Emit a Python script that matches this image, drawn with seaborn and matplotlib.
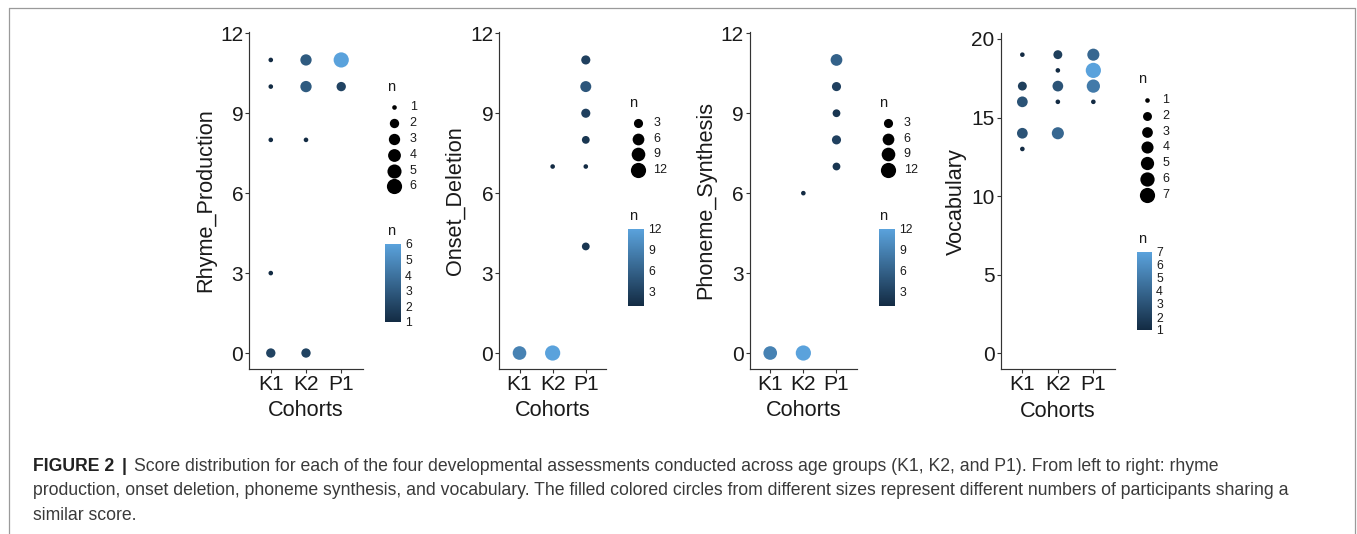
import numpy as np
import pandas as pd
import matplotlib
matplotlib.use("Agg")
import matplotlib.pyplot as plt
import seaborn as sns
from matplotlib.colors import LinearSegmentedColormap, Normalize
from matplotlib.lines import Line2D
import matplotlib.cm as cm

# ---------------- data ----------------
cohorts = ["K1", "K2", "P1"]

rhyme_cohort = ["K1", "K1", "K1", "K1", "K1", "K2", "K2", "K2", "K2", "P1", "P1"]
rhyme_score = [11, 10, 8, 3, 0, 11, 10, 8, 0, 11, 10]
rhyme_n = [1, 1, 1, 1, 2, 3, 3, 1, 2, 6, 2]
rhyme_yticks = [0, 3, 6, 9, 12]
rhyme_breaks = [1, 2, 3, 4, 5, 6]

onset_cohort = ["K1", "K2", "K2", "P1", "P1", "P1", "P1", "P1", "P1"]
onset_score = [0, 0, 7, 11, 10, 9, 8, 7, 4]
onset_n = [9, 12, 1, 3, 5, 3, 2, 1, 2]
onset_yticks = [0, 3, 6, 9, 12]
onset_breaks = [3, 6, 9, 12]

phon_cohort = ["K1", "K2", "K2", "P1", "P1", "P1", "P1", "P1"]
phon_score = [0, 0, 6, 11, 10, 9, 8, 7]
phon_n = [9, 12, 1, 6, 3, 2, 3, 2]
phon_yticks = [0, 3, 6, 9, 12]
phon_breaks = [3, 6, 9, 12]

vocab_cohort = ["K1", "K1", "K1", "K1", "K1", "K2", "K2", "K2", "K2", "K2", "P1", "P1", "P1", "P1"]
vocab_score = [19, 17, 16, 14, 13, 19, 18, 17, 16, 14, 19, 18, 17, 16]
vocab_n = [1, 2, 3, 3, 1, 2, 1, 3, 1, 4, 4, 7, 5, 1]
vocab_yticks = [0, 5, 10, 15, 20]
vocab_breaks = [1, 2, 3, 4, 5, 6, 7]

caption_bold = "FIGURE 2"
caption_line1 = ("Score distribution for each of the four developmental assessments conducted "
                 "across age groups (K1, K2, and P1). From left to right: rhyme")
caption_line2 = ("production, onset deletion, phoneme synthesis, and vocabulary. The filled colored "
                 "circles from different sizes represent different numbers of participants sharing a")
caption_line3 = "similar score."

# ---------------- style ----------------
sns.set_theme(style="ticks")
plt.rcParams["font.family"] = ["Liberation Sans", "DejaVu Sans"]

W, H, DPI = 1357, 534, 100
PT = 72.0 / DPI  # points per pixel
fig = plt.figure(figsize=(W / DPI, H / DPI), dpi=DPI)
fig.patch.set_facecolor("white")


def rect(l, t, r, b):
    return [l / W, 1 - b / H, (r - l) / W, (b - t) / H]


def fx(px):
    return px / W


def fy(py):
    return 1 - py / H


cmap = LinearSegmentedColormap.from_list("gg", ["#132B43", "#5aa2dc"])


def diam_px(v, vmax):
    return 4.6 + 10.6 * np.sqrt((v - 1.0) / (vmax - 1.0))


panels = [
    dict(label="Rhyme_Production", cohort=rhyme_cohort, score=rhyme_score, n=rhyme_n,
         yticks=rhyme_yticks, breaks=rhyme_breaks, box=(249.3, 31.7, 362.7, 369),
         ylim=(-0.6, 12.06), leg=(387, 87.3, 394.3, 107.3), cbar=(385, 244, 401, 322),
         cbtitle=(387, 231)),
    dict(label="Onset_Deletion", cohort=onset_cohort, score=onset_score, n=onset_n,
         yticks=onset_yticks, breaks=onset_breaks, box=(499.3, 31.7, 606, 369),
         ylim=(-0.6, 12.06), leg=(629, 102.7, 637.7, 122.7), cbar=(628, 229, 644, 306),
         cbtitle=(629, 216)),
    dict(label="Phoneme_Synthesis", cohort=phon_cohort, score=phon_score, n=phon_n,
         yticks=phon_yticks, breaks=phon_breaks, box=(750, 31.7, 856.7, 369),
         ylim=(-0.6, 12.06), leg=(879.5, 102.7, 888.2, 122.7), cbar=(879, 229, 895, 306),
         cbtitle=(879.5, 216)),
    dict(label="Vocabulary", cohort=vocab_cohort, score=vocab_score, n=vocab_n,
         yticks=vocab_yticks, breaks=vocab_breaks, box=(1000.7, 33.3, 1115, 369.3),
         ylim=(-1.02, 20.36), leg=(1138, 79, 1146.7, 100), cbar=(1136.7, 252, 1152, 330),
         cbtitle=(1138, 239)),
]

AXCOL = "#333333"
TXTCOL = "#1a1a1a"
LEG_STEP = 15.8

for p in panels:
    ax = fig.add_axes(rect(*p["box"]))
    df = pd.DataFrame({"Cohorts": p["cohort"], "score": p["score"], "n": p["n"]})
    nmax = max(p["n"])
    norm = Normalize(1, nmax)
    sizes = {v: (diam_px(v, nmax) * PT) ** 2 for v in sorted(set(p["n"]))}
    sns.scatterplot(data=df, x="Cohorts", y="score", hue="n", size="n", sizes=sizes,
                    palette=cmap, hue_norm=norm, linewidth=0, legend=False, ax=ax, zorder=3)
    ax.set_xticks(range(len(cohorts)))
    ax.set_xticklabels(cohorts)
    ax.set_xlim(-0.61, 2.61)
    ax.set_ylim(*p["ylim"])
    ax.set_yticks(p["yticks"])
    ax.set_facecolor("white")
    for s in ["top", "right"]:
        ax.spines[s].set_visible(False)
    for s in ["left", "bottom"]:
        ax.spines[s].set_color(AXCOL)
        ax.spines[s].set_linewidth(0.85)
    ax.tick_params(axis="both", length=2.9, width=0.8, color=AXCOL, labelsize=15,
                   labelcolor=TXTCOL, pad=1.5)
    ax.set_xlabel("Cohorts", fontsize=15.6, color=TXTCOL, labelpad=4.5)
    ax.set_ylabel(p["label"], fontsize=15.6, color=TXTCOL, labelpad=3)
    ax.grid(False)

    # size legend
    tx, ty, mx, my0 = p["leg"]
    fig.text(fx(tx), fy(ty), "n", fontsize=10.5, color=TXTCOL, ha="left", va="center")
    for i, b in enumerate(p["breaks"]):
        yy = my0 + i * LEG_STEP
        fig.add_artist(Line2D([fx(mx)], [fy(yy)], transform=fig.transFigure, marker="o",
                              markersize=diam_px(b, nmax) * PT, color="black",
                              markeredgewidth=0, linestyle="none"))
        fig.text(fx(mx + 15.5), fy(yy), str(b), fontsize=9, color=TXTCOL,
                 ha="left", va="center")

    # colour bar
    cax = fig.add_axes(rect(*p["cbar"]))
    sm = cm.ScalarMappable(norm=norm, cmap=cmap)
    cb = fig.colorbar(sm, cax=cax, ticks=p["breaks"])
    cb.outline.set_visible(False)
    cax.tick_params(axis="y", direction="in", colors="white", length=3.0, width=0.6,
                    left=True, right=True, labelsize=8.8, labelcolor=TXTCOL, pad=3)
    fig.text(fx(p["cbtitle"][0]), fy(p["cbtitle"][1]), "n", fontsize=10.5, color=TXTCOL,
             ha="left", va="center")

# ---------------- caption ----------------
CAPSIZE = 12.7
CAPCOL = "#3a3a3a"
renderer = fig.canvas.get_renderer()
t_b = fig.text(fx(33), fy(471), caption_bold, fontsize=CAPSIZE, fontweight="bold",
               color="#222222", va="baseline", ha="left")
bb = t_b.get_window_extent(renderer=renderer)
t_bar = fig.text((bb.x1 + 7) / W, fy(471), "|", fontsize=CAPSIZE, fontweight="bold",
                 color="#222222", va="baseline", ha="left")
bb2 = t_bar.get_window_extent(renderer=renderer)
fig.text((bb2.x1 + 8) / W, fy(471), caption_line1, fontsize=CAPSIZE, color=CAPCOL,
         va="baseline", ha="left")
fig.text(fx(33), fy(495), caption_line2, fontsize=CAPSIZE, color=CAPCOL,
         va="baseline", ha="left")
fig.text(fx(33), fy(520), caption_line3, fontsize=CAPSIZE, color=CAPCOL,
         va="baseline", ha="left")

# ---------------- frame ----------------
FRAME = "#9a9a9a"
fig.add_artist(Line2D([fx(8.5), fx(8.5)], [0, fy(7.5)], transform=fig.transFigure,
                      color=FRAME, linewidth=0.9))
fig.add_artist(Line2D([fx(1354.5), fx(1354.5)], [0, fy(7.5)], transform=fig.transFigure,
                      color=FRAME, linewidth=0.9))
fig.add_artist(Line2D([fx(8.5), fx(1354.5)], [fy(7.5), fy(7.5)], transform=fig.transFigure,
                      color=FRAME, linewidth=0.9))

fig.savefig("out.png", dpi=DPI)
